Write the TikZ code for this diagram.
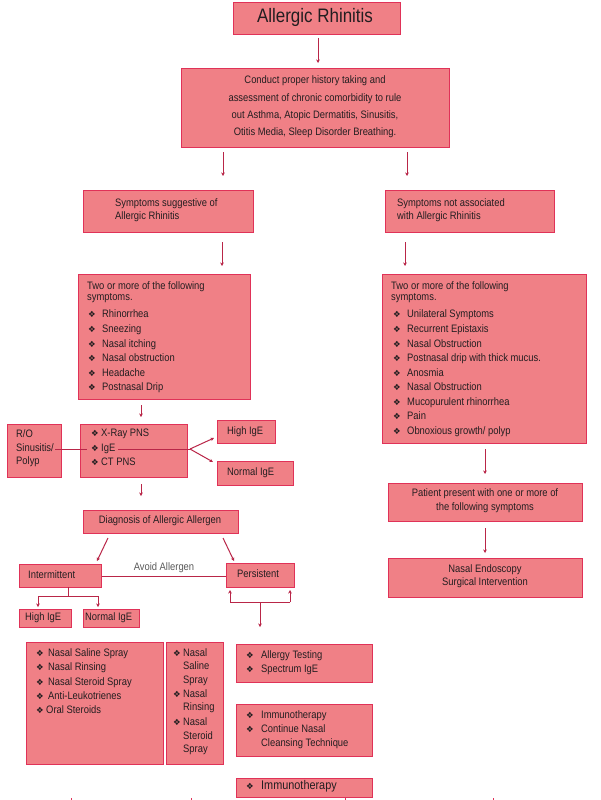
\documentclass[tikz,border=0pt]{standalone}
\usepackage{fontspec}
\setmainfont[FakeStretch=0.87]{Liberation Sans}
\newfontfamily\symfont{DejaVu Sans}
\usetikzlibrary{arrows.meta}
\definecolor{boxfill}{RGB}{240,128,134}
\definecolor{boxline}{RGB}{224,50,88}
\definecolor{arrowc}{RGB}{185,38,72}
\definecolor{txtc}{RGB}{35,30,32}
\newcommand\bul[1]{\makebox[#1pt][l]{\fontsize{8.5}{8.5}\symfont ❖}}
\begin{document}
\begin{tikzpicture}[x=1pt,y=-1pt,
  box/.style={draw=boxline, fill=boxfill, line width=1.1pt, inner sep=0pt, anchor=north west},
  txt/.style={inner sep=0pt, text=txtc, font=\fontsize{10.8}{12}\selectfont, text height=7.8pt, text depth=2.1pt},
  arr/.style={draw=arrowc, line width=1pt, -{Stealth[length=3.5pt,width=3.5pt]}},
  ln/.style={draw=arrowc, line width=1pt}]
\useasboundingbox (0,0) rectangle (600,800);
\fill[white] (0,0) rectangle (600,800);

% ---------- boxes ----------
\node[box, minimum width=167pt, minimum height=32pt] (title) at (233,2) {};
\node[box, minimum width=268pt, minimum height=79pt] (hist) at (181,68) {};
\node[box, minimum width=170pt, minimum height=42pt] (sugg) at (83,190) {};
\node[box, minimum width=169pt, minimum height=42pt] (nota) at (385,190) {};
\node[box, minimum width=172pt, minimum height=125pt] (listL) at (78,274) {};
\node[box, minimum width=204pt, minimum height=169pt] (listR) at (382,274) {};
\node[box, minimum width=54pt, minimum height=53pt] (ro) at (7,424) {};
\node[box, minimum width=107pt, minimum height=53pt] (test) at (80,424) {};
\node[box, minimum width=58pt, minimum height=23pt] (hi1) at (217,420) {};
\node[box, minimum width=76pt, minimum height=24pt] (no1) at (217,461) {};
\node[box, minimum width=194pt, minimum height=38pt] (patient) at (388,483) {};
\node[box, minimum width=194pt, minimum height=39pt] (endo) at (388,558) {};
\node[box, minimum width=155pt, minimum height=23pt] (diag) at (83,510) {};
\node[box, minimum width=82pt, minimum height=23pt] (inter) at (19,564) {};
\node[box, minimum width=68pt, minimum height=24pt] (pers) at (226,563) {};
\node[box, minimum width=52pt, minimum height=18pt] (hi2) at (19,609) {};
\node[box, minimum width=56pt, minimum height=18pt] (no2) at (83,609) {};
\node[box, minimum width=137pt, minimum height=122pt] (boxA) at (26,642) {};
\node[box, minimum width=57pt, minimum height=122pt] (boxB) at (166,642) {};
\node[box, minimum width=136pt, minimum height=38pt] (boxC) at (236,644) {};
\node[box, minimum width=136pt, minimum height=52pt] (boxD) at (236,704) {};
\node[box, minimum width=136pt, minimum height=19pt] (boxE) at (236,778) {};

% ---------- texts ----------
\node[txt, font=\fontsize{19.5}{22}\selectfont, text height=14pt, text depth=4pt] (titleT) at (315,18) {Allergic Rhinitis};

\node[txt] (h1) at (315,81) {Conduct proper history taking and};
\node[txt] (h2) at (315,99) {assessment of chronic comorbidity to rule};
\node[txt] (h3) at (315,116) {out Asthma, Atopic Dermatitis, Sinusitis,};
\node[txt] (h4) at (315,133) {Otitis Media, Sleep Disorder Breathing.};

\node[txt, anchor=west] (s1) at (115,204) {Symptoms suggestive of};
\node[txt, anchor=west] (s2) at (115,217) {Allergic Rhinitis};
\node[txt, anchor=west] (n1) at (397,204) {Symptoms not associated};
\node[txt, anchor=west] (n2) at (397,217) {with Allergic Rhinitis};

\node[txt, anchor=west] (lh1) at (87,287) {Two or more of the following};
\node[txt, anchor=west] (lh2) at (87,298) {symptoms.};
\foreach \t [count=\i] in {Rhinorrhea, Sneezing, Nasal itching, Nasal obstruction, Headache, Postnasal Drip}
  \node[txt, anchor=west] (L\i) at (88, 300.5+14.6*\i) {\bul{14}\t};

\node[txt, anchor=west] (rh1) at (391,287) {Two or more of the following};
\node[txt, anchor=west] (rh2) at (391,298) {symptoms.};
\foreach \t [count=\i] in {Unilateral Symptoms, Recurrent Epistaxis, Nasal Obstruction, Postnasal drip with thick mucus., Anosmia, Nasal Obstruction, Mucopurulent rhinorrhea, Pain, Obnoxious growth/ polyp}
  \node[txt, anchor=west] (R\i) at (393, 300.5+14.55*\i) {\bul{14}\t};

\node[txt, anchor=west] (ro1) at (16,435) {R/O};
\node[txt, anchor=west] (ro2) at (16,449) {Sinusitis/};
\node[txt, anchor=west] (ro3) at (16,462) {Polyp};

\node[txt, anchor=west] (t1) at (91,434) {\bul{10}X-Ray PNS};
\node[txt, anchor=west] (t2) at (91,449) {\bul{10}IgE};
\node[txt, anchor=west] (t3) at (91,463) {\bul{10}CT PNS};

\node[txt, anchor=west] (hi1T) at (227,432) {High IgE};
\node[txt, anchor=west] (no1T) at (227,473) {Normal IgE};

\node[txt] (p1) at (485,494) {Patient present with one or more of};
\node[txt] (p2) at (485,508) {the following symptoms};
\node[txt] (e1) at (485,570) {Nasal Endoscopy};
\node[txt] (e2) at (485,583) {Surgical Intervention};

\node[txt] (diagT) at (160,521) {Diagnosis of Allergic Allergen};
\node[txt, anchor=west] (interT) at (28,576) {Intermittent};
\node[txt, anchor=west] (persT) at (237,575) {Persistent};
\node[txt, text=black!65] (avoid) at (164,568) {Avoid Allergen};
\node[txt, anchor=west] (hi2T) at (25,618) {High IgE};
\node[txt, anchor=west] (no2T) at (85,618) {Normal IgE};

\foreach \t [count=\i] in {Nasal Saline Spray, Nasal Rinsing, Nasal Steroid Spray, Anti-Leukotrienes}
  \node[txt, anchor=west] (A\i) at (36, 639.5+14.3*\i) {\bul{12}\t};
\node[txt, anchor=west] (A5) at (36,711) {\bul{10}Oral Steroids};

\node[txt, anchor=west] (B1) at (173,654) {\bul{10}Nasal};
\node[txt, anchor=west] (B2) at (183,667) {Saline};
\node[txt, anchor=west] (B3) at (183,681) {Spray};
\node[txt, anchor=west] (B4) at (173,695) {\bul{10}Nasal};
\node[txt, anchor=west] (B5) at (183,708) {Rinsing};
\node[txt, anchor=west] (B6) at (173,723) {\bul{10}Nasal};
\node[txt, anchor=west] (B7) at (183,737) {Steroid};
\node[txt, anchor=west] (B8) at (183,750) {Spray};

\node[txt, anchor=west] (C1) at (246,656) {\bul{15}Allergy Testing};
\node[txt, anchor=west] (C2) at (246,670) {\bul{15}Spectrum IgE};
\node[txt, anchor=west] (D1) at (246,716) {\bul{15}Immunotherapy};
\node[txt, anchor=west] (D2) at (246,730) {\bul{15}Continue Nasal};
\node[txt, anchor=west] (D3) at (261,744) {Cleansing Technique};
\node[txt, anchor=west, font=\fontsize{12.5}{14}\selectfont] (E1) at (246,787) {\bul{15}Immunotherapy};

% ---------- connector end points ----------
\coordinate (a1s) at (318,38);  \coordinate (a1e) at (318,63);
\coordinate (a2s) at (223,152); \coordinate (a2e) at (223,176);
\coordinate (a3s) at (407,152); \coordinate (a3e) at (407,176);
\coordinate (a4s) at (222,242); \coordinate (a4e) at (222,266);
\coordinate (a5s) at (405,242); \coordinate (a5e) at (405,266);
\coordinate (a6s) at (141,405); \coordinate (a6e) at (141,417);
\coordinate (a7s) at (141,484); \coordinate (a7e) at (141,496);
\coordinate (a8s) at (485,449); \coordinate (a8e) at (485,474);
\coordinate (a9s) at (485,528); \coordinate (a9e) at (485,553);
\coordinate (d1s) at (108,538); \coordinate (d1e) at (97,561);
\coordinate (d2s) at (223,538); \coordinate (d2e) at (234,561);
\coordinate (igA) at (55,449);  \coordinate (igB) at (87,449);
\coordinate (igC) at (118,449); \coordinate (igD) at (190,449);
\coordinate (igH) at (214,438); \coordinate (igN) at (213,462);
\coordinate (iS) at (68,587);   \coordinate (iM) at (68,596);
\coordinate (iL) at (38,596);   \coordinate (iR) at (98,596);
\coordinate (iLe) at (38,607);  \coordinate (iRe) at (98,607);
\coordinate (pM) at (260,602);  \coordinate (pD) at (260,627);
\coordinate (pL) at (230,602);  \coordinate (pR) at (290,602);
\coordinate (pLe) at (230,590); \coordinate (pRe) at (290,590);

% ---------- connectors ----------
\draw[arr] (a1s) -- (a1e);
\draw[arr] (a2s) -- (a2e);
\draw[arr] (a3s) -- (a3e);
\draw[arr] (a4s) -- (a4e);
\draw[arr] (a5s) -- (a5e);
\draw[arr] (a6s) -- (a6e);
\draw[arr] (a7s) -- (a7e);
\draw[arr] (a8s) -- (a8e);
\draw[arr] (a9s) -- (a9e);
\draw[arr] (d1s) -- (d1e);
\draw[arr] (d2s) -- (d2e);
\draw[ln] (igA) -- (igB);
\draw[ln] (igC) -- (igD);
\draw[arr] (igD) -- (igH);
\draw[arr] (igD) -- (igN);
\draw[ln] (inter.east) -- (pers.west |- inter.east);
\draw[ln] (iS) -- (iM);
\draw[ln] (iL) -- (iR);
\draw[arr] (iL) -- (iLe);
\draw[arr] (iR) -- (iRe);
\draw[arr] (pM) -- (pD);
\draw[ln] (pL) -- (pR);
\draw[arr] (pL) -- (pLe);
\draw[arr] (pR) -- (pRe);

% fragments at the bottom edge
\foreach \xx in {71,191,345,493}
  \draw[draw=boxline, line width=0.8pt] (\xx,798) -- (\xx,800);
\end{tikzpicture}
\end{document}
